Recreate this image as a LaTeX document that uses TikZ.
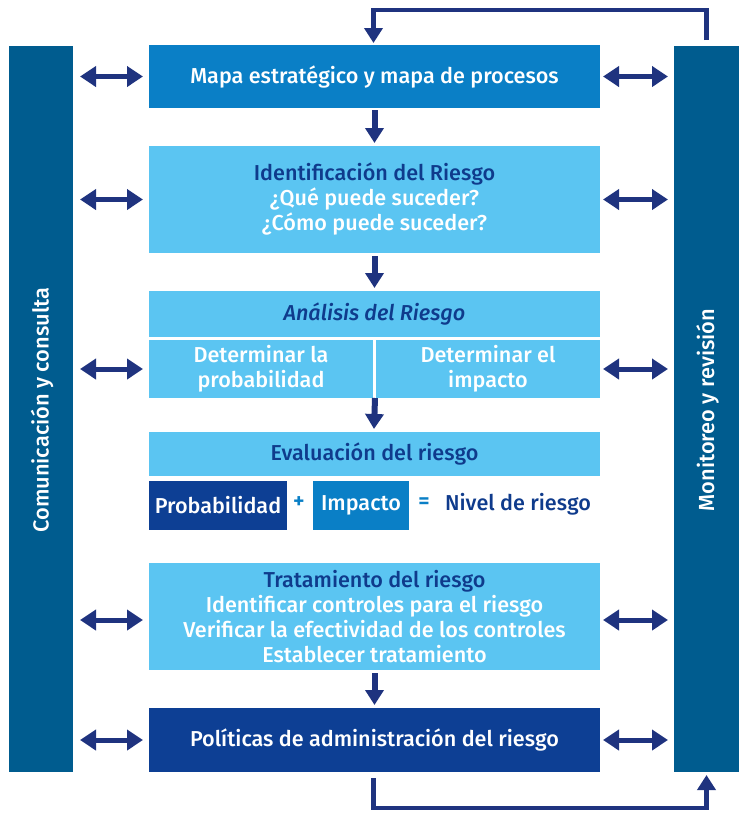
\documentclass[tikz,border=0pt]{standalone}
\usepackage{fontspec}
\setmainfont{Fira Sans}[UprightFont={* Medium}, ItalicFont={* Medium Italic}, BoldFont={* SemiBold}]
\usetikzlibrary{arrows.meta}
\definecolor{barblue}{HTML}{005C8F}
\definecolor{midblue}{HTML}{0A7FC6}
\definecolor{lightblue}{HTML}{5BC5F2}
\definecolor{navybox}{HTML}{0D3F94}
\definecolor{arrowc}{HTML}{1F337F}
\definecolor{navytext}{HTML}{0F3B8C}
\tikzset{
  boxbase/.style={inner sep=0pt, outer sep=0pt, align=center, font=\fontsize{21.6}{25}\selectfont},
  darkbox/.style={boxbase, fill=#1, text=white},
  lightbox/.style={boxbase, fill=lightblue, text=white},
  barbox/.style={inner sep=0pt, outer sep=0pt, fill=barblue, minimum width=64, minimum height=726},
  vertlabel/.style={rotate=90, text=white, font=\fontsize{21.8}{25}\selectfont},
  varrow/.style={draw=arrowc, line width=6pt, -{Triangle[width=18pt,length=15pt]}},
  darrow/.style={draw=arrowc, line width=5pt, {Triangle[width=20pt,length=16pt]}-{Triangle[width=20pt,length=16pt]}},
  looparrow/.style={draw=arrowc, line width=4.5pt, -{Triangle[width=18pt,length=15pt]}},
}
\begin{document}
\begin{tikzpicture}[x=1pt,y=-1pt]
\useasboundingbox (0,0) rectangle (750,828);
% side bars
\node[barbox] (lbar) at (41,409) {};
\node[barbox, minimum width=65] (rbar) at (706.5,409) {};
\node[vertlabel] (lbartext) at (42,410) {Comunicación y consulta};
\node[vertlabel] (rbartext) at (707.5,410) {Monitoreo y revisión};
% main column
\node[darkbox=midblue, minimum width=451, minimum height=63] (map) at (374.5,76.5) {\raisebox{-1.5pt}{Mapa estratégico y mapa de procesos}};
\node[lightbox, minimum width=451, minimum height=107] (ident) at (374.5,199.5)
  {\textcolor{navytext}{Identificación del Riesgo}\\¿Qué puede suceder?\\¿Cómo puede suceder?};
\node[lightbox, minimum width=451, minimum height=46, text=navytext] (anah) at (374.5,314) {\itshape Análisis del Riesgo};
\node[lightbox, minimum width=224, minimum height=58] (anal) at (261,369) {Determinar la\\probabilidad};
\node[lightbox, minimum width=224, minimum height=58] (anar) at (488,369) {Determinar el\\impacto};
\node[lightbox, minimum width=451, minimum height=44, text=navytext] (evalh) at (374.5,454) {Evaluación del riesgo};
\node[darkbox=navybox, minimum width=138, minimum height=49] (prob) at (218,505.5) {Probabilidad};
\node[boxbase, text=midblue, font=\fontsize{22}{25}\bfseries] (plus) at (299,503) {+};
\node[darkbox=midblue, minimum width=96, minimum height=49] (imp) at (361,505.5) {Impacto};
\node[boxbase, text=midblue, font=\fontsize{22}{25}\bfseries] (eq) at (424,503) {=};
\node[boxbase, text=navytext] (nivel) at (518,504) {Nivel de riesgo};
\node[lightbox, minimum width=451, minimum height=107] (trat) at (374.5,616.5)
  {\textcolor{navytext}{Tratamiento del riesgo}\\Identificar controles para el riesgo\\Verificar la efectividad de los controles\\Establecer tratamiento};
\node[darkbox=navybox, minimum width=451, minimum height=64] (polit) at (374.5,740) {\raisebox{-1.5pt}{Políticas de administración del riesgo}};
% vertical arrows
\draw[varrow] ([yshift=-2pt]map.south) -- ([yshift=3pt]ident.north);
\draw[varrow] ([yshift=-3pt]ident.south) -- ([yshift=3pt]anah.north);
\draw[varrow] ([xshift=2pt]anal.south east) -- ([xshift=-0.5pt,yshift=3pt]evalh.north);
\draw[varrow] ([yshift=-3pt]trat.south) -- ([yshift=3pt]polit.north);
% double arrows left
\draw[darrow] ([xshift=7pt]lbar.east |- map.west) -- ([xshift=-6pt]map.west);
\draw[darrow] ([xshift=7pt]lbar.east |- ident.west) -- ([xshift=-6pt]ident.west);
\draw[darrow] ([xshift=7pt]lbar.east |- anal.west) -- ([xshift=-6pt]anal.west);
\draw[darrow] ([xshift=7pt,yshift=-3.5pt]lbar.east |- trat.west) -- ([xshift=-6pt,yshift=-3.5pt]trat.west);
\draw[darrow] ([xshift=7pt]lbar.east |- polit.west) -- ([xshift=-6pt]polit.west);
% double arrows right
\draw[darrow] ([xshift=3pt]map.east) -- ([xshift=-6pt]rbar.west |- map.east);
\draw[darrow] ([xshift=3pt]ident.east) -- ([xshift=-6pt]rbar.west |- ident.east);
\draw[darrow] ([xshift=3pt]anar.east) -- ([xshift=-6pt]rbar.west |- anar.east);
\draw[darrow] ([xshift=3pt,yshift=-3.5pt]trat.east) -- ([xshift=-6pt,yshift=-3.5pt]rbar.west |- trat.east);
\draw[darrow] ([xshift=3pt]polit.east) -- ([xshift=-6pt]rbar.west |- polit.east);
% feedback loops
\coordinate (toprow) at (0,10);
\coordinate (botrow) at (0,808);
\draw[looparrow] ([yshift=6pt]rbar.north) -- (rbar.north |- toprow) -- ([xshift=-1pt]map.north |- toprow) -- ([xshift=-1pt,yshift=2pt]map.north);
\draw[looparrow] ([xshift=-1pt,yshift=-6pt]polit.south) -- ([xshift=-1pt]polit.south |- botrow) -- (rbar.south |- botrow) -- ([yshift=-3pt]rbar.south);
\end{tikzpicture}
\end{document}
